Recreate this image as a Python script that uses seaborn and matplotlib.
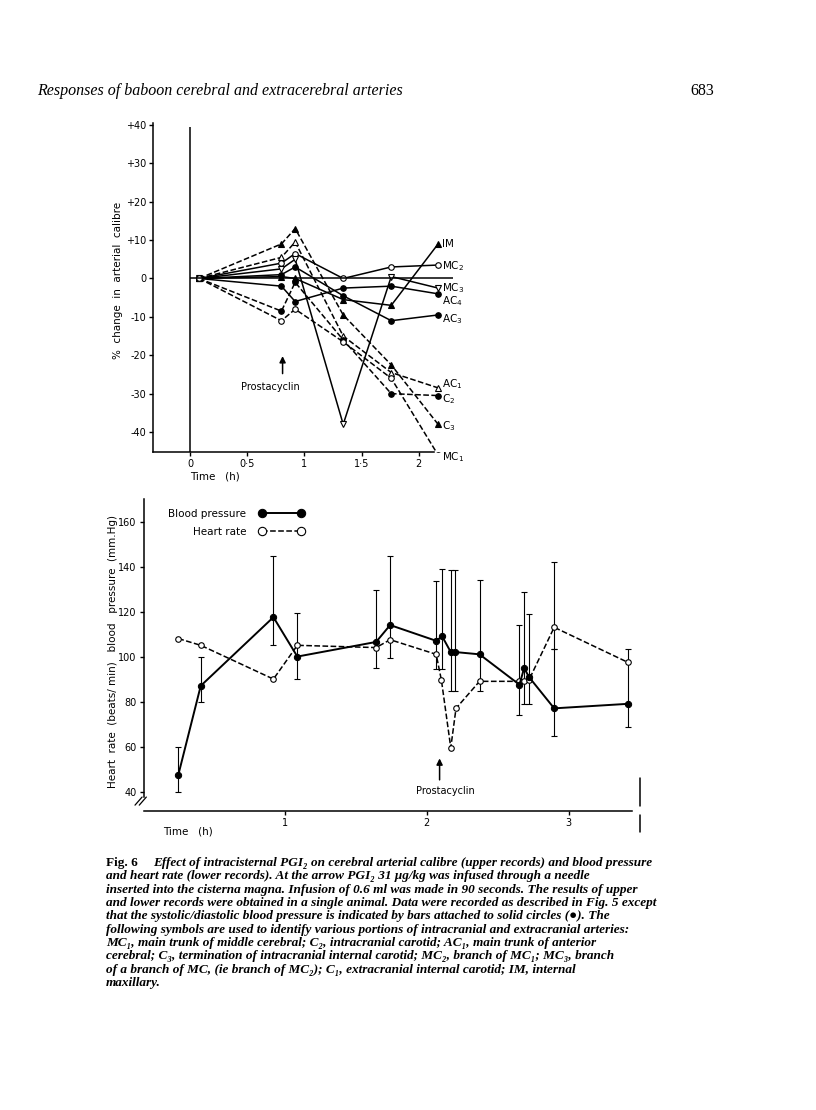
import numpy as np
import pandas as pd
import matplotlib
matplotlib.use("Agg")
import matplotlib.pyplot as plt
import seaborn as sns

# ---------------- upper panel: % change in arterial calibre ----------------
calibre_time = [0.08, 0.80, 0.92, 1.34, 1.76, 2.17]

# solid lines
im_vals = [0, 0.5, 0, -5.5, -7, 9]
mc2_vals = [0, 4, 6.5, 0, 3, 3.5]
mc3_vals = [0, 2.5, 5, -38, 0.5, -2.5]
ac4_vals = [0, -2, -6, -2.5, -2, -4]
ac3_vals = [0, 1, 3, -4.5, -11, -9.5]
# dashed lines
ac1_vals = [0, 5.5, 9.5, -15, -24.5, -28.5]
c2_vals = [0, -8.5, -1, -16, -30, -30.5]
c3_vals = [0, 9, 13, -9.5, -22.5, -38]
mc1_vals = [0, -11, -8, -16.5, -26, -46]

artery_names = ["IM", "MC$_2$", "MC$_3$", "AC$_4$", "AC$_3$",
                "AC$_1$", "C$_2$", "C$_3$", "MC$_1$"]
artery_values = [im_vals, mc2_vals, mc3_vals, ac4_vals, ac3_vals,
                 ac1_vals, c2_vals, c3_vals, mc1_vals]
label_y = [9, 3.2, -2.5, -6, -10.5, -27.5, -31.5, -38.5, -46.5]

# ---------------- lower panel: blood pressure and heart rate ----------------
bp_time = [0.246, 0.404, 0.917, 1.086, 1.642, 1.741, 2.066, 2.108, 2.169,
           2.202, 2.372, 2.654, 2.687, 2.720, 2.899, 3.417]
bp_value = [47.5, 87, 117.5, 100, 106.5, 114, 107, 109, 102, 102, 101,
            87.5, 95, 91, 77, 79]
bp_high = [60, 100, 144.5, 119.5, 129.5, 144.5, 133.5, 139, 138.5, 138.5,
           134, 114, 128.5, 119, 103.5, 103.5]
bp_low = [40, 80, 105, 90, 95, 99.5, 94.5, 94.5, 84.5, 84.5, 84.5, 74,
          79, 79, 64.5, 68.5]

hr_time = [0.246, 0.404, 0.917, 1.086, 1.642, 1.741, 2.066, 2.103, 2.169,
           2.206, 2.372, 2.654, 2.687, 2.720, 2.899, 3.417]
hr_value = [108, 105, 90, 105, 104, 107.5, 101, 89.5, 59.5, 77, 89, 89,
            89, 89.5, 113, 97.5]
hr_bar_time = [2.899]
hr_bar_low = [103.5]
hr_bar_high = [142]

sns.set_theme(style="ticks")
plt.rcParams['font.family'] = ['DejaVu Sans']
plt.rcParams['mathtext.default'] = 'regular'
for key in ['text.color', 'axes.labelcolor', 'xtick.color', 'ytick.color']:
    plt.rcParams[key] = 'black'

fig = plt.figure(figsize=(8.16, 11.10), dpi=100)
W, H = 816.0, 1110.0

# ------------- upper chart -------------
ax1 = fig.add_axes([153 / W, 1 - 452 / H, 300 / W, 329 / H])
ax1.set_facecolor('white')
ax1.set_xlim(-0.323, 2.30)
ax1.set_ylim(-45.2, 40.5)

styles = ['-'] * 5 + ['--'] * 4
markers = ['^', 'o', 'v', 'o', 'o', '^', 'o', '^', 'o']
filled = [True, False, False, True, True, False, True, True, False]

for vals, ls, mk, fl in zip(artery_values, styles, markers, filled):
    sns.lineplot(x=calibre_time, y=vals, ax=ax1, color='black',
                 linestyle=ls, linewidth=1.1, marker=mk, markersize=4,
                 markerfacecolor='black' if fl else 'white',
                 markeredgecolor='black', markeredgewidth=0.8,
                 errorbar=None, sort=False, legend=False,
                 dashes=False if ls == '-' else (4, 2.5))

for name, yl in zip(artery_names, label_y):
    ax1.text(2.205, yl, name, fontsize=7.5, ha='left', va='center')

ax1.vlines(0, -45.2, 39.5, color='black', linewidth=1.1)
ax1.hlines(0, 0, 2.30, color='black', linewidth=1.1)

ax1.annotate('', xy=(0.81, -19.5), xytext=(0.81, -25.5),
             arrowprops=dict(arrowstyle='-|>', color='black', lw=1.1,
                             mutation_scale=9))
ax1.text(0.70, -28.3, 'Prostacyclin', fontsize=7, ha='center', va='center')

for s in ['top', 'right']:
    ax1.spines[s].set_visible(False)
ax1.spines['bottom'].set_bounds(-0.323, 2.13)
for s in ['left', 'bottom']:
    ax1.spines[s].set_color('black')
    ax1.spines[s].set_linewidth(1.1)
ax1.set_yticks([-40, -30, -20, -10, 0, 10, 20, 30, 40])
ax1.set_yticklabels(['-40', '-30', '-20', '-10', '0', '+10', '+20', '+30', '+40'])
ax1.set_xticks([0, 0.5, 1, 1.5, 2])
ax1.set_xticklabels(['0', '0·5', '1', '1·5', '2'])
ax1.tick_params(labelsize=7, length=3, width=1, color='black', pad=2)
ax1.set_xlabel('')
ax1.set_ylabel('')

fig.text(190 / W, 1 - 476 / H, 'Time   (h)', fontsize=7.5, ha='left', va='center')
fig.text(118 / W, 1 - 280 / H, '%  change  in  arterial  calibre',
         fontsize=7.5, rotation=90, ha='center', va='center')

# ------------- lower chart -------------
ax2 = fig.add_axes([143.5 / W, 1 - 811 / H, 510 / W, 312 / H])
ax2.set_facecolor('white')
ax2.set_xlim(0, 3.6)
ax2.set_ylim(31.4, 170)

bp_value_a = np.array(bp_value)
ax2.errorbar(bp_time, bp_value,
             yerr=[bp_value_a - np.array(bp_low), np.array(bp_high) - bp_value_a],
             fmt='none', ecolor='black', elinewidth=0.8, capsize=2.5,
             capthick=0.8)
hrb = np.array(hr_bar_high)
ax2.errorbar(hr_bar_time, [(lo + hi) / 2 for lo, hi in zip(hr_bar_low, hr_bar_high)],
             yerr=(hrb - np.array(hr_bar_low)) / 2, fmt='none', ecolor='black',
             elinewidth=0.8, capsize=2.5, capthick=0.8)

hr_df = pd.DataFrame({'time': hr_time, 'value': hr_value})
bp_df = pd.DataFrame({'time': bp_time, 'value': bp_value})
sns.lineplot(data=hr_df, x='time', y='value', ax=ax2, color='black',
             linestyle='--', dashes=(3.5, 2.5), linewidth=1.1, marker='o',
             markersize=4, markerfacecolor='white', markeredgecolor='black',
             markeredgewidth=0.8, errorbar=None, sort=False,
             label='Heart rate')
sns.lineplot(data=bp_df, x='time', y='value', ax=ax2, color='black',
             linewidth=1.4, marker='o', markersize=4.5,
             markerfacecolor='black', markeredgecolor='black',
             errorbar=None, sort=False, label='Blood pressure')

handles, labels = ax2.get_legend_handles_labels()
leg = ax2.legend(handles[::-1], labels[::-1], loc='upper left',
                 bbox_to_anchor=(0.049, 0.968), markerfirst=False,
                 numpoints=2, frameon=False, fontsize=7.5, handlelength=4.3,
                 handletextpad=1.2, labelspacing=0.75, borderaxespad=0,
                 borderpad=0)
for h in leg.legend_handles:
    h.set_markersize(6)

ax2.annotate('', xy=(2.09, 56), xytext=(2.09, 44),
             arrowprops=dict(arrowstyle='-|>', color='black', lw=1.1,
                             mutation_scale=9))
ax2.text(2.128, 40.2, 'Prostacyclin', fontsize=7, ha='center', va='center')

for s in ['top', 'right']:
    ax2.spines[s].set_visible(False)
ax2.spines['left'].set_bounds(37.5, 170)
ax2.spines['bottom'].set_bounds(0, 3.45)
for s in ['left', 'bottom']:
    ax2.spines[s].set_color('black')
    ax2.spines[s].set_linewidth(1.1)
ax2.set_yticks([40, 60, 80, 100, 120, 140, 160])
ax2.set_xticks([1, 2, 3])
ax2.tick_params(labelsize=7, length=3, width=1, color='black', pad=2)
ax2.set_xlabel('')
ax2.set_ylabel('')

# axis break marks and the right-hand time marker
for dx in (-0.035, -0.005):
    ax2.plot([dx - 0.025, dx + 0.025], [34.0, 37.6], color='black', lw=0.9,
             clip_on=False)
ax2.plot([3.506, 3.506], [46, 33.6], color='black', lw=1.1, clip_on=False)
ax2.plot([3.506, 3.506], [29.6, 22], color='black', lw=1.1, clip_on=False)

fig.text(163 / W, 1 - 831 / H, 'Time   (h)', fontsize=7.5, ha='left', va='center')
fig.text(113 / W, 1 - 652 / H,
         'Heart  rate  (beats/ min)   blood   pressure  (mm.Hg)',
         fontsize=7.5, rotation=90, ha='center', va='center')

# ------------- page header and caption -------------
serif = ['Liberation Serif', 'DejaVu Serif']
fig.text(37 / W, 1 - 91 / H, 'Responses of baboon cerebral and extracerebral arteries',
         family=serif, style='italic', fontsize=11.5, ha='left', va='center')
fig.text(690 / W, 1 - 91 / H, '683', family=serif, fontsize=11.5,
         ha='left', va='center')

caption = [
    'and heart rate (lower records). At the arrow PGI\u2082 31 \u03bcg/kg was infused through a needle',
    'inserted into the cisterna magna. Infusion of 0.6 ml was made in 90 seconds. The results of upper',
    'and lower records were obtained in a single animal. Data were recorded as described in Fig. 5 except',
    'that the systolic/diastolic blood pressure is indicated by bars attached to solid circles (\u25cf). The',
    'following symbols are used to identify various portions of intracranial and extracranial arteries:',
    'MC\u2081, main trunk of middle cerebral; C\u2082, intracranial carotid; AC\u2081, main trunk of anterior',
    'cerebral; C\u2083, termination of intracranial internal carotid; MC\u2082, branch of MC\u2081; MC\u2083, branch',
    'of a branch of MC, (ie branch of MC\u2082); C\u2081, extracranial internal carotid; IM, internal',
    'maxillary.',
]
cap_size = 9.55
fig.text(106 / W, 1 - 863 / H, 'Fig. 6', family=serif, fontsize=cap_size,
         weight='bold', ha='left', va='center')
fig.text(153 / W, 1 - 863 / H,
         'Effect of intracisternal PGI\u2082 on cerebral arterial calibre (upper records) and blood pressure',
         family=serif, style='italic', weight='bold', fontsize=cap_size,
         ha='left', va='center')
for i, line in enumerate(caption):
    fig.text(106 / W, 1 - (876.3 + 13.33 * i) / H, line, family=serif,
             style='italic', weight='bold', fontsize=cap_size, ha='left',
             va='center')

fig.savefig('out.png', dpi=100, facecolor='white')
